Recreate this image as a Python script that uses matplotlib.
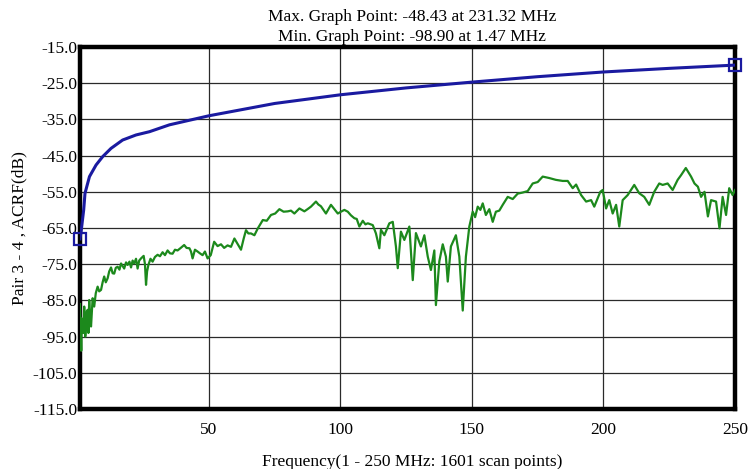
import matplotlib
matplotlib.use("Agg")
import matplotlib.pyplot as plt

plt.rcParams['font.family'] = ['Liberation Serif', 'DejaVu Serif']

# Limit line (blue)
limit_freq = [1, 1.5, 2.4, 2.9, 4.6, 7.1, 9.6, 12.8, 17.2, 22.3, 27.4, 35, 45.8,
              50, 75, 100, 125, 150, 175, 200, 225, 250]
limit_db = [-68.0, -65.5, -60.0, -55.4, -50.8, -47.6, -45.3, -43.0, -40.7, -39.3,
            -38.4, -36.5, -34.7, -34.0, -30.6, -28.2, -26.3, -24.7, -23.2, -21.9,
            -20.9, -20.0]

# Measured ACRF (green)
meas_freq = [1.0, 1.2, 1.47, 1.7, 2.0, 2.3, 2.6, 3.0, 3.3, 3.6, 3.9, 4.2, 4.5, 4.9,
             5.2, 5.8, 6.4, 7.0, 7.7, 8.3, 9.0, 9.6, 10.2, 10.8, 11.5, 12.1, 12.8,
             13.4, 14.0, 14.6, 15.3, 16.0, 16.6, 17.2, 17.8, 18.5, 19.1, 19.8, 20.4,
             21.0, 21.6, 22.3, 22.9, 23.5, 24.2, 24.8, 25.2, 25.7, 26.1, 26.5, 27.0,
             27.8, 28.6, 29.5, 30.5, 31.4, 32.4, 33.3, 34.3, 35.2, 36.2, 37.1, 38.1,
             39.3, 40.6, 41.5, 42.6, 43.2, 43.8, 44.7, 45.7, 46.6, 47.6, 48.5, 49.5,
             50.7, 52.0, 53.3, 54.6, 55.8, 57.1, 58.4, 59.7, 61.0, 62.2, 63.2, 64.1,
             65.0, 66.0, 67.3, 68.6, 70.5, 72.0, 73.6, 75.2, 76.8, 78.4, 80.0, 81.2,
             82.5, 84.4, 86.3, 87.5, 88.8, 90.7, 91.6, 92.6, 94.5, 96.4, 99.0,
             100.2, 101.5, 102.8, 104.0, 105.3, 106.2, 107.2, 108.5, 109.5, 110.4,
             112.3, 113.5, 114.8, 115.4, 116.7, 118.6, 119.9, 121.1, 121.8, 123.0,
             124.3, 126.2, 127.5, 128.7, 130.6, 131.9, 133.2, 134.4, 135.7, 136.3,
             137.6, 138.9, 140.1, 140.8, 142.0, 143.9, 145.2, 146.5, 147.7, 149.0,
             150.3, 151.2, 152.2, 153.2, 154.1, 155.3, 156.6, 157.9, 159.1, 160.4,
             161.7, 163.6, 165.5, 167.4, 169.3, 171.2, 173.1, 175.0, 176.9, 179.4,
             181.9, 184.5, 186.4, 188.3, 189.6, 191.5, 193.4, 195.3, 196.5, 197.8,
             198.8, 199.7, 201.0, 202.2, 203.5, 204.8, 206.0, 207.3, 209.2, 211.7,
             213.6, 215.5, 217.4, 219.3, 221.2, 222.5, 224.4, 226.3, 228.2, 229.5,
             231.3, 233.3, 234.6, 235.9, 237.1, 238.4, 239.7, 240.9, 242.8, 244.1,
             245.3, 246.6, 247.8, 249.1, 250.0]
meas_db = [-86.0, -92.0, -98.9, -90.0, -90.4, -94.0, -86.7, -95.0, -92.2, -88.0, -87.6,
           -94.0, -84.9, -91.0, -92.2, -84.4, -86.7, -83.0, -81.2, -82.5, -82.1, -80.0,
           -78.4, -80.0, -78.9, -77.0, -75.9, -77.5, -77.6, -76.0, -75.7, -76.5, -74.8,
           -75.5, -76.2, -74.5, -75.2, -74.3, -75.9, -74.0, -74.8, -73.5, -76.2, -74.0,
           -73.4, -73.0, -72.7, -75.0, -80.7, -77.0, -75.2, -73.5, -74.3, -73.0, -72.4,
           -72.8, -71.7, -72.5, -71.2, -72.0, -72.1, -71.0, -71.2, -70.5, -69.7, -70.5,
           -70.6, -71.5, -73.4, -71.0, -71.5, -72.0, -72.5, -71.5, -73.4,
           -72.5, -68.8, -70.0, -69.5, -70.5, -69.8, -70.2, -67.9, -69.5, -71.0, -68.0,
           -65.6, -66.5, -66.5, -67.0, -65.1, -62.8, -63.0, -61.4, -61.0, -59.8, -60.5,
           -60.4, -60.2, -61.0, -59.6, -60.4, -59.8, -59.1, -57.7, -58.5, -59.0, -61.0,
           -58.6, -61.0,
           -60.5, -60.0, -60.5, -61.5, -62.3, -62.5, -64.6, -63.0, -64.0, -63.7, -64.2,
           -66.5, -70.6, -65.5, -67.0, -63.7, -63.3, -70.1, -76.1, -66.0, -68.3, -64.6,
           -79.4, -66.4, -70.1, -67.0, -72.9, -76.6, -71.2, -86.3, -74.2, -69.5, -72.9,
           -79.8, -70.1, -67.0, -72.9, -87.8, -72.9, -64.6,
           -60.5, -62.0, -59.1, -60.0, -58.2, -61.4, -59.8, -63.3, -60.5, -60.2, -58.6,
           -56.4, -57.0, -55.5, -55.2, -54.8, -52.7, -52.3, -50.8, -51.2, -51.7, -52.0,
           -52.0, -54.0, -53.0, -55.9, -57.7, -57.3, -59.1, -56.8, -55.0, -54.5, -59.6,
           -57.3, -61.0, -58.6, -64.6, -57.3, -55.9, -53.1, -55.4, -56.4, -58.6, -55.0,
           -52.7, -53.1, -52.7, -54.5, -51.7, -50.4, -48.43, -50.8, -52.7, -53.6, -56.4,
           -55.0, -61.8, -57.3, -57.7, -65.1, -56.4, -61.4, -54.0, -55.9, -54.5]

y_ticks = [-15, -25, -35, -45, -55, -65, -75, -85, -95, -105, -115]
x_ticks = [50, 100, 150, 200, 250]
title_lines = ["Max. Graph Point: -48.43 at 231.32 MHz",
               "Min. Graph Point: -98.90 at 1.47 MHz"]
x_label = "Frequency(1 - 250 MHz: 1601 scan points)"
y_label = "Pair 3 - 4 , ACRF(dB)"

FS = 12.5

fig = plt.figure(figsize=(7.49, 4.69), dpi=100)
ax = fig.add_axes([80 / 749, 1 - 409 / 469, 655 / 749, 362 / 469])

ax.set_xlim(1, 250)
ax.set_ylim(-115, -15)
ax.set_xticks(x_ticks)
ax.set_yticks(y_ticks)
ax.set_yticklabels([f"{v:.1f}" for v in y_ticks])
ax.tick_params(axis='both', length=0, labelsize=FS)
ax.tick_params(axis='x', pad=9)
ax.tick_params(axis='y', pad=2)

ax.grid(True, color='#2a2a2a', linewidth=0.9)
ax.set_axisbelow(True)
for s in ax.spines.values():
    s.set_linewidth(3.2)
    s.set_color('black')

ax.plot(meas_freq, meas_db, color='#1c891c', linewidth=1.6, zorder=3)
ax.plot(limit_freq, limit_db, color='#1a1aa0', linewidth=2.2, zorder=4)
ax.plot([limit_freq[0], limit_freq[-1]], [limit_db[0], limit_db[-1]], linestyle='none',
        marker='s', markersize=9, markerfacecolor='none', markeredgecolor='#1a1aa0',
        markeredgewidth=1.6, clip_on=False, zorder=6)

ax.set_ylabel(y_label, fontsize=FS, labelpad=4)

fig.text(412 / 749, 1 - 17 / 469, title_lines[0], ha='center', va='center', fontsize=FS)
fig.text(412 / 749, 1 - 37 / 469, title_lines[1], ha='center', va='center', fontsize=FS)
fig.text(412 / 749, 1 - 454 / 469, x_label, ha='center', va='top', fontsize=FS)

fig.savefig("out.png", dpi=100)
